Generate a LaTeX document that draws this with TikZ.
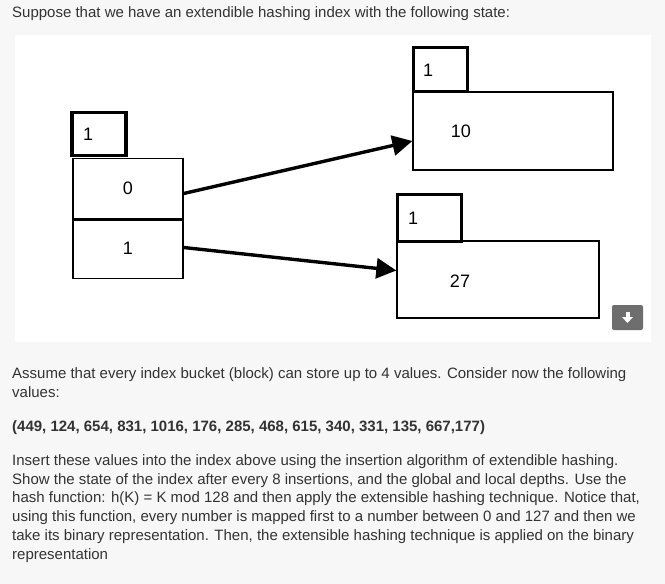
\documentclass[tikz,border=0pt]{standalone}
\usepackage{fontspec}
\setmainfont{Liberation Sans}
\usetikzlibrary{arrows.meta}
\definecolor{pagebg}{HTML}{F7F7F7}
\definecolor{txt}{HTML}{333333}
\definecolor{btn}{HTML}{6E6E6E}
\begin{document}
\begin{tikzpicture}[x=1pt,y=-1pt,
  para/.style={anchor=base west,inner sep=0pt,text=txt,font=\fontsize{15}{17}\selectfont},
  num/.style={inner sep=0pt,font=\fontsize{18}{20}\selectfont},
  cell/.style={draw,line width=1.3pt,minimum width=110pt,minimum height=60pt,inner sep=0pt,font=\fontsize{18}{20}\selectfont},
  depthbox/.style={draw,line width=3.6pt,inner sep=0pt},
  bucket/.style={draw,line width=1.3pt,inner sep=0pt},
  ptr/.style={line width=3.4pt,-{Triangle[length=20pt,width=20pt]}}]
\useasboundingbox (0,0) rectangle (665,584);
\fill[pagebg] (0,0) rectangle (665,584);
\fill[white] (15,35) rectangle (651,342);

\node[para] (t0) at (12,17) {Suppose that we have an extendible hashing index with the following state:};

% directory
\node[depthbox,minimum width=54pt,minimum height=43pt] (gd) at (99,134) {};
\node[num,anchor=west] (gdl) at (83,134) {1};
\node[cell] (c0) at (128,188.5) {0};
\node[cell] (c1) at (128,248.5) {1};
\draw[line width=3pt] (c0.south west) -- (c0.south east);

% bucket 1
\node[depthbox,minimum width=54pt,minimum height=44pt] (d1) at (440.5,69.5) {};
\node[num,anchor=west] (d1l) at (423,70) {1};
\node[bucket,minimum width=200pt,minimum height=78pt] (b1) at (513,131) {};
\node[num] (v1) at (461,131) {10};

% bucket 2
\node[depthbox,minimum width=64pt,minimum height=47pt] (d2) at (429.5,218) {};
\node[num,anchor=west] (d2l) at (408,218) {1};
\node[bucket,minimum width=202pt,minimum height=77pt] (b2) at (498,279.5) {};
\node[num] (v2) at (460,281) {27};

% pointers
\draw[ptr] ([yshift=-5pt]c0.east) -- ([yshift=-10pt]b1.west);
\draw[ptr] ([yshift=1pt]c1.east) -- ([yshift=9pt]b2.west);

% download button
\node[fill=btn,rounded corners=2pt,minimum width=31pt,minimum height=25pt,inner sep=0pt] (dl) at (627.5,317.5) {};
\fill[white] ([xshift=-2pt,yshift=6pt]dl.center) rectangle ([xshift=2pt,yshift=0pt]dl.center);
\fill[white] ([xshift=-5.5pt,yshift=0.5pt]dl.center) -- ([xshift=5.5pt,yshift=0.5pt]dl.center) -- ([yshift=-5.5pt]dl.center) -- cycle;

% text
\node[para] (p1) at (12,378) {Assume that every index bucket (block) can store up to 4 values. Consider now the following};
\node[para] (p2) at (12,397) {values:};
\node[para,font=\fontsize{15}{17}\selectfont\bfseries] (p3) at (12,431) {(449, 124, 654, 831, 1016, 176, 285, 468, 615, 340, 331, 135, 667,177)};
\node[para] (q1) at (12,465) {Insert these values into the index above using the insertion algorithm of extendible hashing.};
\node[para] (q2) at (12,484) {Show the state of the index after every 8 insertions, and the global and local depths. Use the};
\node[para] (q3) at (12,502.5) {hash function: h(K) = K mod 128 and then apply the extensible hashing technique. Notice that,};
\node[para] (q4) at (12,521.5) {using this function, every number is mapped first to a number between 0 and 127 and then we};
\node[para] (q5) at (12,540) {take its binary representation. Then, the extensible hashing technique is applied on the binary};
\node[para] (q6) at (12,559) {representation};
\end{tikzpicture}
\end{document}
